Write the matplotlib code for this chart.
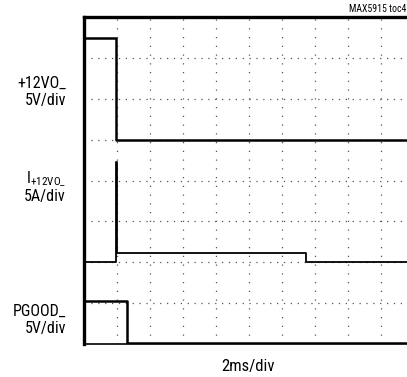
import numpy as np
import matplotlib.pyplot as plt

# scope trace values (time in ms, 2 ms/div; vertical in divisions offset per channel)
t_edge = 1.95          # +12VO_ turn-off / current step
t_pgood = 2.6          # PGOOD_ falls
t_iend = 13.45         # current returns to zero
v_high = 12.4          # V
i_spike = 12.3         # A
i_level = 1.1          # A
pg_high = 5.1          # V

v_off, i_off, pg_off = 5.0, 2.0, 0.0   # ground level of each trace (div)
v_scale, i_scale, pg_scale = 5.0, 5.0, 5.0

labels = [("+12VO_", "5V/div"), ("I$_{\\mathregular{+12VO\\_}}$", "5A/div"), ("PGOOD_", "5V/div")]

plt.rcParams['font.family'] = ['Roboto Condensed', 'DejaVu Sans']

W, H = 407, 377
fig = plt.figure(figsize=(W / 100, H / 100), dpi=100)
x0, x1, y0, y1 = 84, 414, 17, 344
ax = fig.add_axes([x0 / W, 1 - y1 / H, (x1 - x0) / W, (y1 - y0) / H])
ax.set_xlim(0, 20)
ax.set_ylim(0, 8)

for k in range(1, 10):
    ax.axvline(2 * k, color='#555555', lw=0.9, ls=(0, (1, 6)))
for k in range(1, 8):
    ax.axhline(k, color='#555555', lw=0.9, ls=(0, (1, 4.5)))

# +12VO_
tx = [0, t_edge, t_edge, 20]
vy = [v_high, v_high, 0, 0]
ax.plot(tx, v_off + np.array(vy) / v_scale, color='black', lw=1.8)

# current
ix = [0, t_edge, t_edge, t_edge + 0.02, t_edge + 0.02, t_iend, t_iend, 20]
iy = [0, 0, i_spike, i_spike, i_level, i_level, 0, 0]
ax.plot(ix, i_off + np.array(iy) / i_scale, color='black', lw=1.3)

# PGOOD_
px = [0, t_pgood, t_pgood, 20]
py = [pg_high, pg_high, 0, 0]
ax.plot(px, pg_off + np.array(py) / pg_scale + 0.03, color='black', lw=1.8)

ax.set_xticks([])
ax.set_yticks([])
for s in ['left', 'top', 'right']:
    ax.spines[s].set_linewidth(2.4)
ax.spines['bottom'].set_linewidth(1.2)

def fx(px_):
    return px_ / W

def fy(py_):
    return 1 - py_ / H

lab_y = [(83, 101), (179, 197), (311, 329)]
for (a, b), (ya, yb) in zip(labels, lab_y):
    fig.text(fx(66), fy(ya), a, ha='right', va='center', fontsize=11.5)
    fig.text(fx(66), fy(yb), b, ha='right', va='center', fontsize=11.5)

fig.text(fx(248), fy(367), "2ms/div", ha='center', va='center', fontsize=12)
fig.text(fx(406), fy(9), "MAX5915 toc4", ha='right', va='center', fontsize=7)

fig.savefig('out.png', dpi=100)
